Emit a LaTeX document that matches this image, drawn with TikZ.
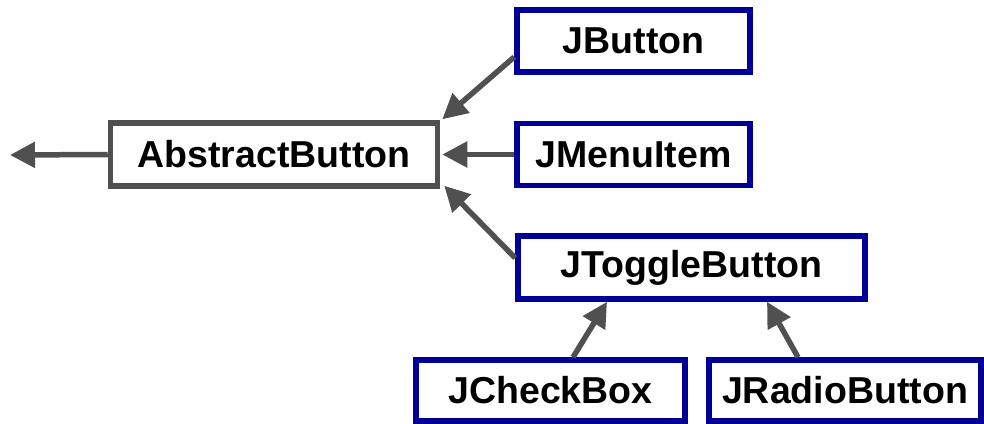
\documentclass[tikz,border=0pt]{standalone}
\usepackage{fontspec}
\setmainfont{Liberation Sans}
\usetikzlibrary{arrows.meta}
\definecolor{boxgray}{RGB}{80,80,80}
\definecolor{boxblue}{RGB}{0,0,153}
\tikzset{
  classbox/.style={draw, line width=5.5pt, fill=white, inner sep=0pt,
    font=\fontsize{37.5}{42}\selectfont\bfseries, text=black},
  graybox/.style={classbox, draw=boxgray},
  bluebox/.style={classbox, draw=boxblue},
  inherit/.style={draw=boxgray, line width=5.5pt,
    -{Triangle[length=25pt,width=25pt]}}
}
\begin{document}
\begin{tikzpicture}[x=1pt,y=-1pt]
\useasboundingbox (0,0) rectangle (984,423);
\node[graybox, minimum width=327pt, minimum height=63pt] (ab) at (274,154.5) {AbstractButton};
\node[bluebox, minimum width=233pt, minimum height=62pt] (jb) at (633.5,41) {JButton};
\node[bluebox, minimum width=233pt, minimum height=62pt] (jm) at (633.5,154.5) {JMenuItem};
\node[bluebox, minimum width=347pt, minimum height=63pt] (jt) at (691.5,267.5) {JToggleButton};
\node[bluebox, minimum width=269pt, minimum height=61pt] (jc) at (550.5,390.5) {JCheckBox};
\node[bluebox, minimum width=272pt, minimum height=61pt] (jr) at (845,390.5) {JRadioButton};
\coordinate (sup) at (10,155);
\draw[inherit] (ab.west) -- (sup);
\draw[inherit] ([yshift=-16pt]jb.west) -- ([xshift=2pt,yshift=1pt]ab.north east);
\draw[inherit] (jm.west) -- ([xshift=2pt]ab.east);
\draw[inherit] ([yshift=9.5pt]jt.west) -- ([xshift=4pt,yshift=3pt]ab.south east);
\draw[inherit] ([xshift=22.5pt]jc.north) -- ([xshift=-84.5pt]jt.south);
\draw[inherit] ([xshift=-47pt]jr.north) -- ([xshift=75.5pt]jt.south);
\end{tikzpicture}
\end{document}
